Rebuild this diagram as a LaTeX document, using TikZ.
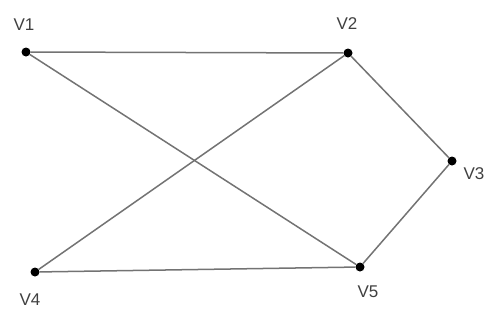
\documentclass[tikz,border=0pt]{standalone}
\usepackage{fontspec}
\setmainfont{Liberation Sans}
\begin{document}
\begin{tikzpicture}[x=1pt,y=-1pt,
  vtx/.style={circle,fill=black,inner sep=0pt,minimum size=9pt},
  edge/.style={draw=black!55,line width=1.5pt},
  lab/.style={font=\fontsize{17}{17}\selectfont,text=black!75,inner sep=0pt}]
\useasboundingbox (0,0) rectangle (500,322);
\node[vtx] (v1) at (26,52) {};
\node[vtx] (v2) at (348,53) {};
\node[vtx] (v3) at (452,161) {};
\node[vtx] (v4) at (35,272) {};
\node[vtx] (v5) at (360,267) {};
\node[lab] (l1) at (24,25) {V1};
\node[lab] (l2) at (347,24) {V2};
\node[lab] (l3) at (474,174) {V3};
\node[lab] (l4) at (30,300) {V4};
\node[lab] (l5) at (368,292) {V5};
\draw[edge] (v1) -- (v2);
\draw[edge] (v1) -- (v5);
\draw[edge] (v2) -- (v4);
\draw[edge] (v2) -- (v3);
\draw[edge] (v3) -- (v5);
\draw[edge] (v4) -- (v5);
\end{tikzpicture}
\end{document}
